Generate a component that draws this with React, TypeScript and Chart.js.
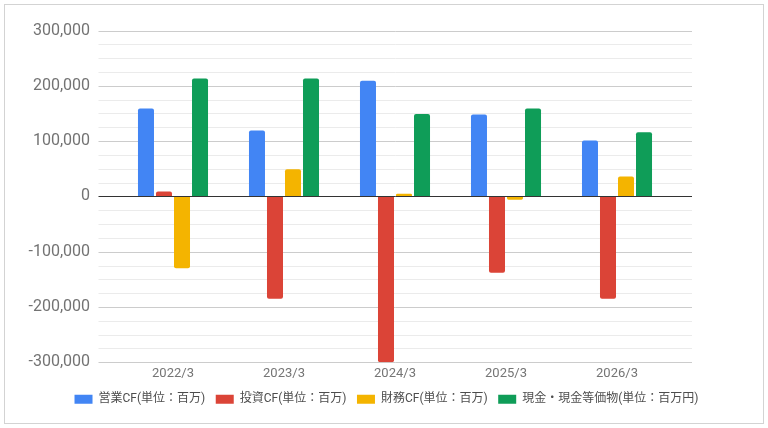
import React, { useEffect, useRef } from "react";
import { Chart, registerables } from "chart.js";

Chart.register(...registerables);

// ---- data ----
const categories = ["2022/3", "2023/3", "2024/3", "2025/3", "2026/3"];
const operatingCF = [159000, 119000, 209000, 148000, 101000];
const investingCF = [9000, -185000, -300000, -138000, -185000];
const financingCF = [-130000, 49000, 5000, -6000, 36000];
const cashEquivalents = [213000, 213000, 149000, 159000, 116000];
const seriesLabels = [
  "営業CF(単位：百万)",
  "投資CF(単位：百万)",
  "財務CF(単位：百万)",
  "現金・現金等価物(単位：百万円)",
];
const seriesColors = ["#4285F4", "#DB4437", "#F4B400", "#0F9D58"];
const yMin = -300000;
const yMax = 300000;
const yMajorStep = 100000;
const yMinorStep = 25000;

const FONT = "Roboto, 'Noto Sans CJK JP', sans-serif";

const gridPlugin = {
  id: "extendedGrid",
  beforeDatasetsDraw(chart: any) {
    const { ctx, chartArea } = chart;
    const y = chart.scales.y;
    const left = chartArea.left - 19;
    const right = chartArea.right + 19.5;
    ctx.save();
    ctx.lineWidth = 1;
    for (let v = yMin; v <= yMax; v += yMinorStep) {
      if (v === 0) continue;
      const py = Math.round(y.getPixelForValue(v)) + 0.5;
      ctx.strokeStyle = v % yMajorStep === 0 ? "#cccccc" : "#ebebeb";
      ctx.beginPath();
      ctx.moveTo(left, py);
      ctx.lineTo(right, py);
      ctx.stroke();
    }
    ctx.restore();
  },
  afterDatasetsDraw(chart: any) {
    const { ctx, chartArea } = chart;
    const y = chart.scales.y;
    const left = chartArea.left - 19;
    const right = chartArea.right + 19.5;
    const py = Math.round(y.getPixelForValue(0)) + 0.5;
    ctx.save();
    ctx.strokeStyle = "#333333";
    ctx.lineWidth = 1;
    ctx.beginPath();
    ctx.moveTo(left, py);
    ctx.lineTo(right, py);
    ctx.stroke();
    ctx.restore();
  },
};

export default function App() {
  const canvasRef = useRef<HTMLCanvasElement | null>(null);

  useEffect(() => {
    if (!canvasRef.current) return;
    const seriesData = [operatingCF, investingCF, financingCF, cashEquivalents];
    const chart = new Chart(canvasRef.current, {
      type: "bar",
      data: {
        labels: categories,
        datasets: seriesData.map((d, i) => ({
          label: seriesLabels[i],
          data: d,
          backgroundColor: seriesColors[i],
          borderWidth: 0,
          borderRadius: 2,
          barPercentage: 0.889,
          categoryPercentage: 0.649,
          yAxisID: "y",
        })),
      },
      options: {
        animation: false,
        responsive: true,
        maintainAspectRatio: false,
        layout: { padding: { top: 30.5, left: 5, right: 0, bottom: 12.8 } },
        plugins: {
          tooltip: { enabled: false },
          legend: {
            position: "bottom",
            align: "center",
            labels: {
              usePointStyle: true,
              pointStyle: "rect",
              pointStyleWidth: 18,
              boxHeight: 9,
              padding: 10.5,
              color: "#4d4d4d",
              font: { family: FONT, size: 12 },
            },
          },
        },
        scales: {
          x: {
            grid: { display: false, drawTicks: false },
            border: { display: false },
            afterFit: (scale: any) => {
              scale.height = 20.4;
            },
            ticks: {
              color: "#757575",
              font: { family: FONT, size: 13 },
              padding: 4,
              maxRotation: 0,
            },
          },
          y: {
            min: yMin,
            max: yMax,
            position: "left",
            grid: { display: false, drawTicks: false },
            border: { display: false },
            afterFit: (scale: any) => {
              scale.width = 112.5;
              scale.paddingTop = 0;
              scale.paddingBottom = 0;
            },
            ticks: {
              stepSize: yMajorStep,
              color: "#737373",
              font: { family: FONT, size: 16 },
              padding: 27.5,
              callback: (v: any) => Number(v).toLocaleString("en-US"),
            },
          },
          yRight: {
            type: "linear",
            position: "right",
            min: yMin,
            max: yMax,
            grid: { display: false, drawTicks: false },
            border: { display: false },
            ticks: { display: false },
            afterFit: (scale: any) => {
              scale.width = 95.5;
              scale.paddingTop = 0;
              scale.paddingBottom = 0;
            },
          },
        },
      },
      plugins: [gridPlugin],
    });
    return () => chart.destroy();
  }, []);

  return (
    <div
      style={{
        position: "fixed",
        left: 0,
        top: 0,
        width: 768,
        height: 428,
        background: "#ffffff",
      }}
    >
      <canvas ref={canvasRef} />
      <div
        style={{
          position: "absolute",
          left: 4,
          top: 4,
          width: 760,
          height: 420,
          boxSizing: "border-box",
          border: "1px solid #d3d3d3",
          pointerEvents: "none",
        }}
      />
    </div>
  );
}
